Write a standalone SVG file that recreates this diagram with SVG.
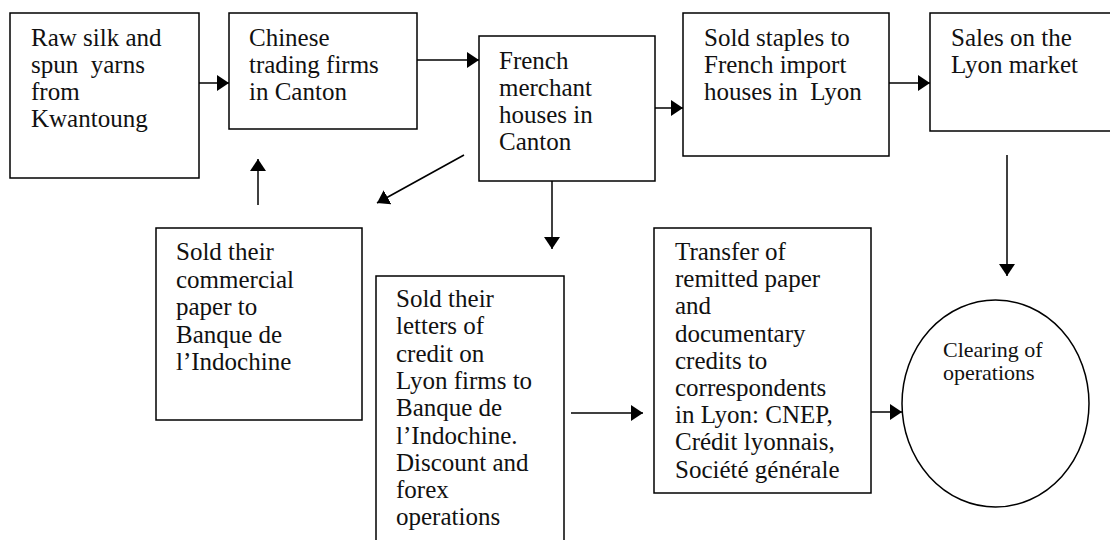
<svg xmlns="http://www.w3.org/2000/svg" width="1110" height="540" viewBox="0 0 1110 540">
<style>
.box{fill:#fff;stroke:#000;stroke-width:1.5}
.t{font-family:"Liberation Serif","DejaVu Serif",serif;font-size:25px;fill:#111;white-space:pre}
.tc{font-family:"Liberation Serif","DejaVu Serif",serif;font-size:22px;fill:#111}
.ln{stroke:#000;stroke-width:1.5;fill:none}
</style>
<defs>
<marker id="ah" viewBox="0 0 12 16" refX="12" refY="8" markerWidth="12" markerHeight="16" markerUnits="userSpaceOnUse" orient="auto">
<path d="M0,0 L12,8 L0,16 Z" fill="#000"/>
</marker>
</defs>
<rect width="1110" height="540" fill="#fff"/>
<g id="n1"><rect class="box" x="10" y="13" width="189" height="165"/>
<text class="t" x="31" y="46">Raw silk and</text><text class="t" x="31" y="73">spun  yarns</text><text class="t" x="31" y="100">from</text><text class="t" x="31" y="127">Kwantoung</text></g>
<g id="n2"><rect class="box" x="229" y="13" width="188" height="116"/>
<text class="t" x="249" y="46">Chinese</text><text class="t" x="249" y="73">trading firms</text><text class="t" x="249" y="100">in Canton</text></g>
<g id="n3"><rect class="box" x="479" y="36" width="176" height="145"/>
<text class="t" x="499" y="69">French</text><text class="t" x="499" y="96">merchant</text><text class="t" x="499" y="123">houses in</text><text class="t" x="499" y="150">Canton</text></g>
<g id="n4"><rect class="box" x="683" y="13" width="206" height="143"/>
<text class="t" x="704" y="46">Sold staples to</text><text class="t" x="704" y="73">French import</text><text class="t" x="704" y="100">houses in  Lyon</text></g>
<g id="n5"><rect class="box" x="930" y="13" width="190" height="118"/>
<text class="t" x="951" y="46">Sales on the</text><text class="t" x="951" y="73">Lyon market</text></g>
<g id="n6"><rect class="box" x="156" y="228" width="206" height="192"/>
<text class="t" x="176" y="260">Sold their</text><text class="t" x="176" y="287.5">commercial</text><text class="t" x="176" y="315">paper to</text><text class="t" x="176" y="342.5">Banque de</text><text class="t" x="176" y="370">l’Indochine</text></g>
<g id="n7"><rect class="box" x="376" y="276" width="188" height="280"/>
<text class="t" x="396" y="307">Sold their</text><text class="t" x="396" y="334.3">letters of</text><text class="t" x="396" y="361.6">credit on</text><text class="t" x="396" y="388.9">Lyon firms to</text><text class="t" x="396" y="416.2">Banque de</text><text class="t" x="396" y="443.5">l’Indochine.</text><text class="t" x="396" y="470.8">Discount and</text><text class="t" x="396" y="498.1">forex</text><text class="t" x="396" y="525.4">operations</text></g>
<g id="n8"><rect class="box" x="654" y="228" width="217" height="265"/>
<text class="t" x="675" y="260">Transfer of</text><text class="t" x="675" y="287.2">remitted paper</text><text class="t" x="675" y="314.4">and</text><text class="t" x="675" y="341.6">documentary</text><text class="t" x="675" y="368.8">credits to</text><text class="t" x="675" y="396">correspondents</text><text class="t" x="675" y="423.2">in Lyon: CNEP,</text><text class="t" x="675" y="450.4">Crédit lyonnais,</text><text class="t" x="675" y="477.6">Société générale</text></g>
<g id="n9"><ellipse class="box" cx="995.5" cy="403.5" rx="93.5" ry="103.5"/>
<text class="tc" x="943" y="357">Clearing of</text><text class="tc" x="943" y="380">operations</text></g>
<g id="connectors">
<line class="ln" x1="199" y1="83" x2="229" y2="83" marker-end="url(#ah)"/>
<line class="ln" x1="417" y1="60" x2="479" y2="60" marker-end="url(#ah)"/>
<line class="ln" x1="655" y1="108" x2="683" y2="108" marker-end="url(#ah)"/>
<line class="ln" x1="889" y1="83" x2="930" y2="83" marker-end="url(#ah)"/>
<line class="ln" x1="258" y1="205" x2="258" y2="159" marker-end="url(#ah)"/>
<line class="ln" x1="464" y1="155" x2="377" y2="203" marker-end="url(#ah)"/>
<line class="ln" x1="552" y1="181" x2="552" y2="249" marker-end="url(#ah)"/>
<line class="ln" x1="571" y1="413" x2="643" y2="413" marker-end="url(#ah)"/>
<line class="ln" x1="871" y1="412" x2="902" y2="412" marker-end="url(#ah)"/>
<line class="ln" x1="1007" y1="155" x2="1007" y2="276" marker-end="url(#ah)"/>
</g>
</svg>
